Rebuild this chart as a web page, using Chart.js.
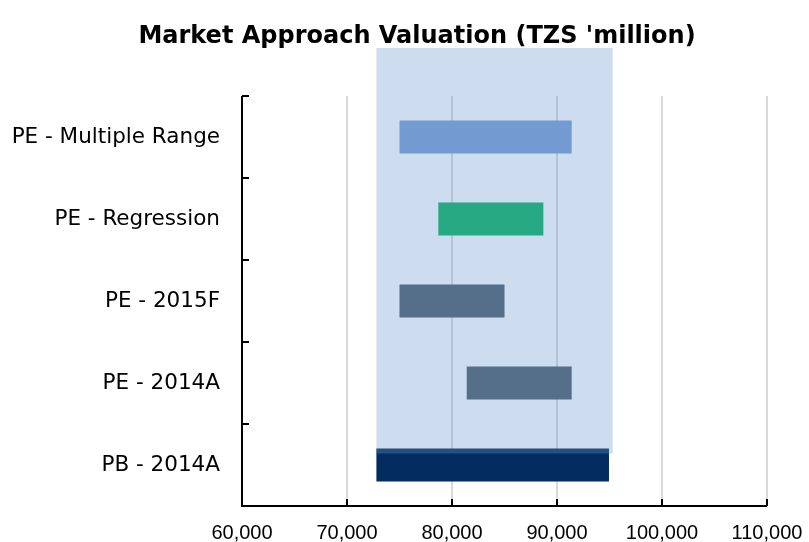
<!DOCTYPE html>
<html>
<head>
<meta charset="utf-8">
<script src="https://cdn.jsdelivr.net/npm/chart.js@4/dist/chart.umd.min.js"></script>
<style>
  html, body { margin: 0; padding: 0; background: #fff; }
  #wrap { width: 809px; height: 542px; }
</style>
</head>
<body>
<div id="wrap"><canvas id="chart"></canvas></div>
<script>
const categories = ['PE - Multiple Range', 'PE - Regression', 'PE - 2015F', 'PE - 2014A', 'PB - 2014A'];
const lowValues = [75000, 78700, 75000, 81400, 72800];
const highValues = [91400, 88700, 85000, 91400, 94950];
const xTicks = [60000, 70000, 80000, 90000, 100000, 110000];
// overall valuation range (shaded band)
const rangeLow = 72800;
const rangeHigh = 95300;
const titleText = "Market Approach Valuation (TZS 'million)";

// colours underneath the translucent band
const barColors = ['#799fd4', '#07b35f', '#4c5d6a', '#4c5d6a', '#022d5e'];
const shadeColor = 'rgba(104, 149, 203, 0.33)';

const labelFont = 'DejaVu Sans';

// title sits a little right of the canvas centre in the original
const titlePlugin = {
    id: 'chartTitle',
    afterDraw(chart) {
        const ctx = chart.ctx;
        ctx.save();
        ctx.font = 'bold 24px "' + labelFont + '"';
        ctx.fillStyle = '#000';
        ctx.textAlign = 'center';
        ctx.textBaseline = 'alphabetic';
        ctx.fillText(titleText, 417, 43);
        ctx.restore();
    }
};

// band drawn over the bars, like the original
const shadePlugin = {
    id: 'shade',
    afterDatasetsDraw(chart) {
        const ctx = chart.ctx;
        const x = chart.scales.x;
        const meta = chart.getDatasetMeta(0);
        const last = meta.data[meta.data.length - 1];
        const left = x.getPixelForValue(rangeLow);
        const right = x.getPixelForValue(rangeHigh);
        const top = chart.chartArea.top - 48;
        const bottom = last.y - last.height / 2 + 5;
        ctx.save();
        ctx.fillStyle = shadeColor;
        ctx.fillRect(left, top, right - left, bottom - top);
        ctx.restore();
    }
};

// axis lines with inward tick marks
const axisPlugin = {
    id: 'axisLines',
    afterDraw(chart) {
        const ctx = chart.ctx;
        const area = chart.chartArea;
        const x = chart.scales.x;
        ctx.save();
        ctx.strokeStyle = '#000';
        ctx.lineWidth = 2;
        ctx.beginPath();
        ctx.moveTo(area.left, area.top);
        ctx.lineTo(area.left, area.bottom);
        ctx.lineTo(area.right, area.bottom);
        ctx.stroke();
        ctx.beginPath();
        x.ticks.forEach((t, i) => {
            const px = x.getPixelForTick(i);
            ctx.moveTo(px, area.bottom);
            ctx.lineTo(px, area.bottom - 7);
        });
        const band = (area.bottom - area.top) / categories.length;
        for (let i = 0; i <= categories.length; i++) {
            const py = area.top + i * band;
            ctx.moveTo(area.left, py);
            ctx.lineTo(area.left + 7, py);
        }
        ctx.stroke();
        ctx.restore();
    }
};

new Chart(document.getElementById('chart'), {
    type: 'bar',
    data: {
        labels: categories,
        datasets: [{
            data: lowValues.map((v, i) => [v, highValues[i]]),
            backgroundColor: barColors,
            borderWidth: 0,
            barPercentage: 0.4,
            categoryPercentage: 1
        }]
    },
    options: {
        indexAxis: 'y',
        responsive: true,
        maintainAspectRatio: false,
        animation: false,
        layout: { padding: { left: 0, right: 42, top: 96, bottom: 0 } },
        plugins: {
            legend: { display: false },
            tooltip: { enabled: false },
            title: { display: false }
        },
        scales: {
            x: {
                min: 60000,
                max: 110000,
                afterBuildTicks(scale) {
                    scale.ticks = xTicks.map(v => ({ value: v }));
                },
                afterFit(scale) {
                    scale.height = 36;
                    scale.paddingLeft = 0;
                    scale.paddingRight = 0;
                },
                border: { display: false },
                grid: {
                    color: ctx => ctx.index === 0 ? 'rgba(0,0,0,0)' : '#d9d9d9',
                    lineWidth: 2,
                    drawTicks: false
                },
                ticks: {
                    color: '#000',
                    padding: 15,
                    font: { family: 'Liberation Sans', size: 20 },
                    callback: v => v.toLocaleString('en-US')
                }
            },
            y: {
                afterFit(scale) { scale.width = 242; },
                border: { display: false },
                grid: { display: false, drawTicks: false },
                ticks: {
                    color: '#000',
                    padding: 22,
                    font: { family: labelFont, size: 21.5 }
                }
            }
        }
    },
    plugins: [shadePlugin, axisPlugin, titlePlugin]
});
</script>
</body>
</html>
